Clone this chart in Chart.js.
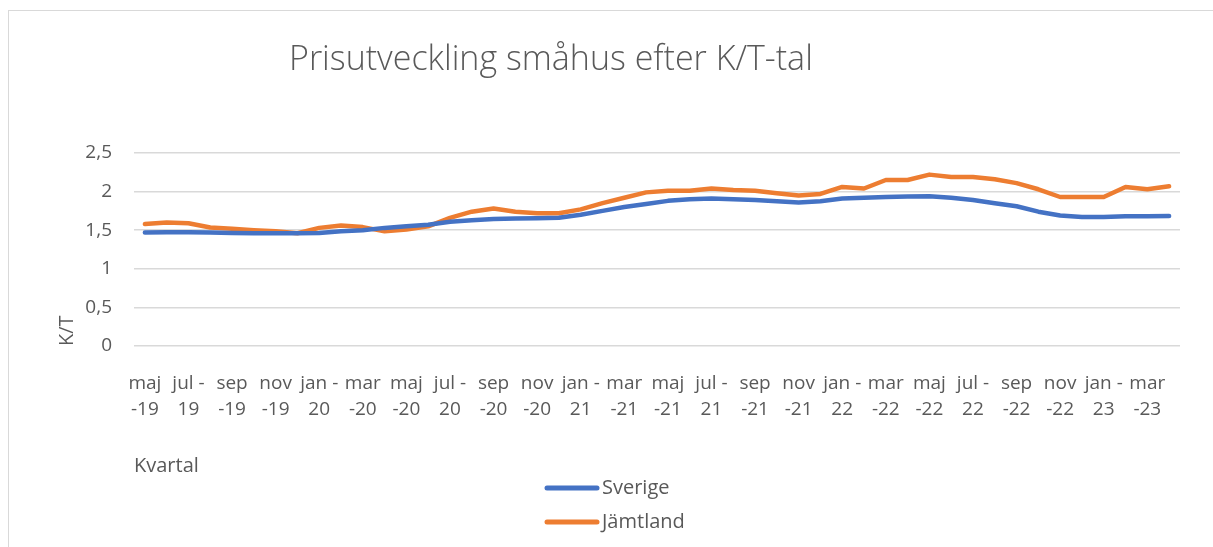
<!DOCTYPE html>
<html>
<head>
<meta charset="utf-8">
<script src="https://cdn.jsdelivr.net/npm/chart.js@4/dist/chart.umd.min.js"></script>
<style>
  html, body { margin: 0; padding: 0; background: #fff; }
  #wrap { position: relative; width: 1213px; height: 547px; overflow: hidden; }
  #frameTop { position: absolute; left: 8px; top: 10px; width: 1205px; height: 0; border-top: 1px solid #d9d9d9; }
  #frameLeft { position: absolute; left: 8px; top: 10px; width: 0; height: 537px; border-left: 1px solid #d9d9d9; }
  canvas { position: absolute; left: 0; top: 0; }
</style>
</head>
<body>
<div id="wrap">
  <canvas id="c" width="1213" height="547"></canvas>
  <div id="frameTop"></div>
  <div id="frameLeft"></div>
</div>
<script>
const titleText = 'Prisutveckling småhus efter K/T-tal';
const yAxisTitle = 'K/T';
const xAxisTitle = 'Kvartal';
const seriesNames = ['Sverige', 'Jämtland'];
const seriesColors = ['#4472C4', '#ED7D31'];

const categories = [
  'maj-19','jun-19','jul-19','aug-19','sep-19','okt-19','nov-19','dec-19',
  'jan-20','feb-20','mar-20','apr-20','maj-20','jun-20','jul-20','aug-20','sep-20','okt-20','nov-20','dec-20',
  'jan-21','feb-21','mar-21','apr-21','maj-21','jun-21','jul-21','aug-21','sep-21','okt-21','nov-21','dec-21',
  'jan-22','feb-22','mar-22','apr-22','maj-22','jun-22','jul-22','aug-22','sep-22','okt-22','nov-22','dec-22',
  'jan-23','feb-23','mar-23','apr-23'
];

const sverige = [
  1.47, 1.475, 1.475, 1.47, 1.465, 1.46, 1.46, 1.46,
  1.465, 1.485, 1.50, 1.53, 1.55, 1.57, 1.61, 1.63, 1.645, 1.65, 1.655, 1.66,
  1.70, 1.75, 1.80, 1.84, 1.88, 1.90, 1.91, 1.90, 1.89, 1.875, 1.86, 1.875,
  1.91, 1.92, 1.93, 1.935, 1.94, 1.92, 1.89, 1.85, 1.81, 1.74, 1.69, 1.67,
  1.67, 1.68, 1.68, 1.685
];

const jamtland = [
  1.58, 1.60, 1.59, 1.535, 1.52, 1.50, 1.485, 1.46,
  1.53, 1.56, 1.54, 1.485, 1.51, 1.55, 1.66, 1.74, 1.78, 1.74, 1.72, 1.72,
  1.77, 1.85, 1.92, 1.99, 2.01, 2.01, 2.04, 2.02, 2.01, 1.98, 1.95, 1.97,
  2.06, 2.04, 2.15, 2.15, 2.22, 2.19, 2.19, 2.16, 2.11, 2.03, 1.93, 1.93,
  1.93, 2.06, 2.03, 2.07
];

const yMin = 0, yMax = 2.5, yStep = 0.5;

const textColor = '#595959';
const fontFamily = "'Open Sans', 'Noto Sans', sans-serif";

function wrapLabel(cat) {
  const parts = cat.split('-');
  const mon = parts[0], yy = parts[1];
  if (mon === 'jul' || mon === 'jan') return [mon + ' -', yy];
  return [mon, '-' + yy];
}

const titlePlugin = {
  id: 'customTitle',
  afterDraw(chart) {
    const ctx = chart.ctx;
    ctx.save();
    ctx.fillStyle = textColor;
    ctx.font = "300 34px " + fontFamily;
    ctx.textAlign = 'left';
    ctx.textBaseline = 'alphabetic';
    ctx.fillText(titleText, 289, 70);
    ctx.restore();
  }
};

const legendPlugin = {
  id: 'customLegend',
  afterDraw(chart) {
    const ctx = chart.ctx;
    ctx.save();
    chart.data.datasets.forEach((ds, i) => {
      const y = 488 + i * 34;
      ctx.strokeStyle = ds.borderColor;
      ctx.lineWidth = 5;
      ctx.lineCap = 'round';
      ctx.beginPath();
      ctx.moveTo(547, y);
      ctx.lineTo(597, y);
      ctx.stroke();
      ctx.fillStyle = textColor;
      ctx.font = "20px " + fontFamily;
      ctx.textAlign = 'left';
      ctx.textBaseline = 'middle';
      ctx.fillText(ds.label, 602, y);
    });
    ctx.restore();
  }
};

new Chart(document.getElementById('c'), {
  type: 'line',
  data: {
    labels: categories,
    datasets: [
      { label: seriesNames[0], data: sverige, borderColor: seriesColors[0], backgroundColor: seriesColors[0],
        borderWidth: 4.5, pointRadius: 0, tension: 0, borderCapStyle: 'round', borderJoinStyle: 'round' },
      { label: seriesNames[1], data: jamtland, borderColor: seriesColors[1], backgroundColor: seriesColors[1],
        borderWidth: 4.5, pointRadius: 0, tension: 0, borderCapStyle: 'round', borderJoinStyle: 'round' }
    ]
  },
  options: {
    responsive: false,
    animation: false,
    devicePixelRatio: 1,
    layout: { padding: { top: 153, right: 33, left: 0, bottom: 0 } },
    plugins: {
      legend: { display: false },
      title: { display: false },
      tooltip: { enabled: false }
    },
    scales: {
      x: {
        type: 'category',
        offset: true,
        grid: { display: false },
        border: { display: false },
        ticks: {
          autoSkip: false,
          maxRotation: 0,
          minRotation: 0,
          padding: 17,
          color: textColor,
          font: { family: fontFamily, size: 19, lineHeight: 1.35 },
          callback: function(val, idx) { return idx % 2 ? '' : wrapLabel(categories[idx]); }
        },
        title: {
          display: true,
          text: xAxisTitle,
          align: 'start',
          color: textColor,
          font: { family: fontFamily, size: 20 },
          padding: { top: 30, bottom: 69 }
        },
        afterFit(scale) { scale.height = 201; }
      },
      y: {
        min: yMin,
        max: yMax,
        grid: { color: '#d9d9d9', lineWidth: 1.5, drawTicks: false },
        border: { display: false },
        ticks: {
          stepSize: yStep,
          padding: 22,
          color: textColor,
          font: { family: fontFamily, size: 19 },
          callback: function(v) { return String(v).replace('.', ','); }
        },
        title: {
          display: true,
          text: yAxisTitle,
          align: 'start',
          color: textColor,
          font: { family: fontFamily, size: 20 },
          padding: { top: 55, bottom: 0 }
        },
        afterFit(scale) { scale.width = 134; }
      }
    }
  },
  plugins: [titlePlugin, legendPlugin]
});
</script>
</body>
</html>
